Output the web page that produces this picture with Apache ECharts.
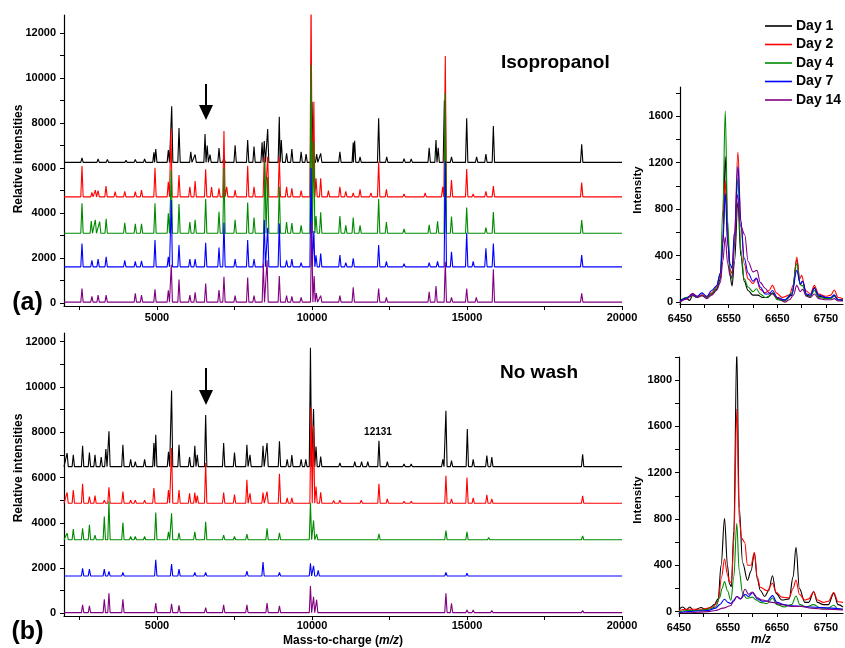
<!DOCTYPE html>
<html><head><meta charset="utf-8">
<script src="https://cdn.jsdelivr.net/npm/echarts@6.0.0/dist/echarts.min.js"></script>
<style>html,body{margin:0;padding:0;background:#fff}#c{width:845px;height:648px}</style>
</head><body><div id="c"></div>
<script>
// ---------- data ----------
const days = ['Day 1', 'Day 2', 'Day 4', 'Day 7', 'Day 14'];

// Panel (a) Isopropanol: baselines and peaks [m/z, intensity]
const isoBase = [6250, 4720, 3100, 1610, 40];
const isoDay1 = [[2580,6450],[3100,6400],[3400,6380],[4000,6350],[4300,6380],[4600,6400],[4900,6700],[4960,6840],[5365,6800],[5474,8750],[5710,7780],[6090,6720],[6230,6600],[6550,7510],[6620,7000],[6710,6600],[7000,6890],[7160,6500],[7520,7010],[7925,7240],[8130,6950],[8390,7140],[8460,7200],[8570,7730],[8945,8280],[9010,7240],[9180,6650],[9350,6840],[9650,6720],[9810,6620],[10000,8950],[10150,6620],[10280,6650],[10900,6720],[11330,7130],[11375,7210],[11550,6500],[12150,8210],[12410,6500],[12970,6420],[13200,6400],[13780,6900],[14000,7240],[14070,6900],[14270,9000],[14500,6500],[14990,8210],[15310,6500],[15610,6620],[15850,7870],[18700,7050]];
const isoDay2 = [[2580,6090],[2900,4920],[3010,5020],[3100,5000],[3355,5200],[3650,4950],[3960,4960],[4300,4950],[4500,5020],[4935,6010],[5365,5390],[5450,7720],[5710,5690],[6060,5170],[6230,5420],[6570,5950],[6760,5150],[7000,5100],[7160,7640],[7250,5170],[7520,5020],[7925,6100],[8130,5170],[8460,6500],[8570,6500],[8945,6500],[9180,5170],[9350,5100],[9650,5000],[9970,13500],[10060,8950],[10130,5550],[10280,5550],[10530,5000],[10900,5170],[11090,4960],[11330,4900],[11550,5050],[11900,4900],[12150,6280],[12400,5050],[12970,4850],[13650,4900],[14215,5170],[14300,10980],[14500,5470],[14990,5960],[15200,4850],[15610,4960],[15850,5200],[18700,5350]];
const isoDay4 = [[2580,4430],[2880,3650],[3010,3700],[3150,3620],[3360,3740],[3960,3570],[4300,3520],[4500,3520],[4935,4430],[5365,3990],[5460,5910],[5710,4400],[6060,3600],[6230,3700],[6570,4620],[7000,4060],[7160,6000],[7520,3700],[7925,4470],[8130,3800],[8480,6300],[8570,5600],[8945,5170],[9180,3600],[9350,3550],[9650,3450],[9970,10580],[10060,7170],[10130,3870],[10280,4030],[10900,3870],[11090,3450],[11330,3800],[11550,3450],[12150,4620],[12400,3600],[12970,3300],[13780,3480],[14050,3630],[14300,9320],[14500,3840],[14990,4250],[15610,3350],[15850,4040],[18700,3690]];
const isoDay7 = [[2580,2650],[2900,1900],[3100,1950],[3360,2050],[3960,1900],[4300,1850],[4500,1880],[4935,2800],[5365,2050],[5460,4580],[5710,2580],[6060,1950],[6230,1950],[6570,2680],[7000,2470],[7160,3570],[7520,1950],[7925,2800],[8130,1950],[8460,3690],[8570,3350],[8945,3540],[9180,1900],[9350,1950],[9650,1800],[9970,6000],[10060,3200],[10130,2120],[10280,2200],[10900,2130],[11090,1800],[11330,1990],[12150,2580],[12400,1850],[12970,1750],[13780,1800],[14050,1850],[14300,6300],[14500,2280],[14990,3120],[15200,1850],[15610,2430],[15850,2650],[18700,2130]];
const isoDay14 = [[2580,650],[2900,300],[3100,350],[3360,350],[4300,430],[4500,350],[4935,610],[5365,570],[5460,1700],[5710,1050],[6060,350],[6230,480],[6570,870],[7000,580],[7160,1170],[7520,330],[7925,1140],[8130,330],[8430,1760],[8550,1900],[8945,1200],[9180,330],[9350,300],[9650,250],[9990,3600],[10070,1200],[10140,440],[10280,330],[10900,330],[11330,700],[12150,650],[12400,250],[13780,500],[14000,760],[14300,1840],[14500,250],[14990,650],[15300,250],[15850,1500],[18700,430]];

// Panel (b) No wash
const nwBase = [6480, 4860, 3250, 1650, 30];
const nwDay1 = [[2100,7080],[2300,7000],[2600,7400],[2820,7100],[3000,7000],[3200,6900],[3350,7260],[3450,8040],[3900,7450],[4150,6800],[4300,6700],[4600,6800],[4900,7520],[4960,7890],[5370,7140],[5470,9840],[5710,7450],[6050,6900],[6220,7400],[6300,7000],[6570,8760],[7150,7520],[7500,7100],[7900,7450],[8000,7000],[8420,7400],[8550,7520],[8950,7600],[9200,6800],[9350,6990],[9650,6800],[9800,6800],[9950,11730],[10050,9030],[10130,7370],[10280,6930],[10900,6650],[11380,6700],[11600,6700],[11800,6700],[12160,7620],[12430,6700],[12970,6600],[13200,6600],[14220,6800],[14320,8950],[14500,6750],[15010,8140],[15200,6800],[15640,6970],[15800,6900],[18730,7030]];
const nwDay2 = [[2100,5340],[2300,5450],[2600,5720],[2820,5160],[3000,5200],[3300,5000],[3450,5570],[3900,5380],[4150,5000],[4300,5000],[4600,5000],[4900,5530],[5370,5450],[5470,7300],[5710,5450],[6050,5300],[6220,5330],[6300,5200],[6570,6640],[7150,5340],[7500,5250],[7900,5900],[8000,5300],[8420,5330],[8550,5380],[8950,6160],[9200,5100],[9350,5100],[9970,9100],[10050,8300],[10130,5600],[10280,5350],[10700,4980],[10900,5000],[11590,5000],[12160,5720],[12430,5060],[12970,4950],[13200,4950],[14320,6080],[14500,5060],[15000,6000],[15200,5100],[15640,5230],[15800,5050],[18730,5190]];
const nwDay4 = [[2100,3540],[2300,3720],[2600,3760],[2820,3910],[3000,3450],[3300,4270],[3450,4940],[3900,4010],[4150,3400],[4300,3400],[4600,3400],[4960,4450],[5370,3600],[5470,4420],[5710,3550],[6220,3600],[6570,4040],[7150,3450],[7500,3400],[7900,3500],[8550,3760],[8950,3550],[9950,4870],[10050,4100],[10150,3500],[12160,3510],[14320,3650],[15000,3600],[15700,3350],[18730,3420]];
const nwDay7 = [[2600,1990],[2820,1950],[3300,1950],[3450,1850],[3900,1800],[4960,2360],[5470,2180],[5710,1950],[6220,1800],[6570,1800],[7900,1860],[8420,2260],[8950,1800],[9950,2210],[10050,2100],[10200,1900],[14320,1810],[15000,1770],[15800,1720],[18730,1720]];
const nwDay14 = [[2600,370],[2820,330],[3300,620],[3450,880],[3900,620],[4960,450],[5470,420],[5710,350],[6570,250],[7150,370],[7900,370],[8550,450],[8950,330],[9950,1210],[10050,730],[10150,600],[14320,880],[14500,440],[15000,150],[15200,150],[15800,120],[18730,120]];

// Inset (a) zoom 6450-6785
const isoZoom1 = [[6450,10],[6462,35],[6470,15],[6476,60],[6485,40],[6495,60],[6505,40],[6515,70],[6525,110],[6533,200],[6538,500],[6543,1253],[6548,600],[6553,220],[6557,140],[6562,350],[6569,860],[6575,400],[6582,180],[6590,100],[6600,60],[6610,60],[6620,40],[6630,40],[6640,80],[6650,30],[6665,15],[6680,60],[6690,365],[6697,150],[6702,180],[6710,60],[6718,50],[6726,125],[6735,50],[6750,40],[6760,40],[6767,60],[6775,20],[6785,20]];
const isoZoom2 = [[6450,5],[6462,25],[6476,75],[6485,50],[6495,60],[6505,45],[6515,80],[6525,130],[6533,230],[6538,550],[6543,1046],[6548,520],[6553,280],[6557,245],[6562,600],[6569,1290],[6575,700],[6582,330],[6590,200],[6600,160],[6607,200],[6615,110],[6625,80],[6633,100],[6640,144],[6648,80],[6660,40],[6675,60],[6683,150],[6690,387],[6696,200],[6700,230],[6708,100],[6718,70],[6726,144],[6735,70],[6750,50],[6760,60],[6767,105],[6775,40],[6785,30]];
const isoZoom4 = [[6450,0],[6462,40],[6476,55],[6485,40],[6495,55],[6505,40],[6515,70],[6525,120],[6533,250],[6538,800],[6543,1643],[6548,700],[6553,250],[6557,200],[6562,500],[6569,1061],[6575,450],[6582,200],[6590,130],[6600,90],[6607,115],[6615,70],[6625,40],[6633,50],[6640,75],[6650,20],[6665,10],[6680,80],[6690,330],[6697,150],[6702,140],[6710,50],[6718,50],[6726,100],[6735,40],[6750,30],[6760,30],[6767,50],[6775,20],[6785,15]];
const isoZoom7 = [[6450,10],[6462,30],[6476,70],[6485,50],[6495,80],[6505,50],[6515,100],[6525,140],[6533,250],[6538,500],[6543,937],[6548,500],[6553,330],[6557,290],[6562,600],[6569,1167],[6575,700],[6582,380],[6590,250],[6600,180],[6607,207],[6615,130],[6625,70],[6633,70],[6640,100],[6650,40],[6665,20],[6680,70],[6690,273],[6697,160],[6702,180],[6710,70],[6718,60],[6726,120],[6735,60],[6750,40],[6760,40],[6767,60],[6775,20],[6785,15]];
const isoZoom14 = [[6450,0],[6462,25],[6476,60],[6485,40],[6495,55],[6505,30],[6515,60],[6525,100],[6533,170],[6538,350],[6543,559],[6548,330],[6553,230],[6557,215],[6562,500],[6568,924],[6575,650],[6583,580],[6590,350],[6600,260],[6608,273],[6615,170],[6625,120],[6633,80],[6640,70],[6650,40],[6665,0],[6675,20],[6683,60],[6690,144],[6697,90],[6702,110],[6710,50],[6718,40],[6726,70],[6735,30],[6750,20],[6760,20],[6767,30],[6775,10],[6785,10]];

// Inset (b) zoom 6450-6785
const nwZoom1 = [[6450,20],[6458,40],[6465,15],[6472,40],[6480,10],[6495,35],[6505,15],[6515,40],[6522,60],[6530,110],[6536,400],[6543,805],[6549,400],[6553,240],[6557,215],[6562,700],[6568,2270],[6573,900],[6580,420],[6590,270],[6597,350],[6604,503],[6610,280],[6616,185],[6625,130],[6633,180],[6641,310],[6648,160],[6660,100],[6675,110],[6683,300],[6689,555],[6696,200],[6707,80],[6715,80],[6725,172],[6733,80],[6745,60],[6755,60],[6766,158],[6775,60],[6785,40]];
const nwZoom2 = [[6450,10],[6465,20],[6480,20],[6495,20],[6510,30],[6520,40],[6530,90],[6537,300],[6543,455],[6549,320],[6553,260],[6557,250],[6562,600],[6568,1750],[6573,800],[6578,633],[6584,600],[6590,400],[6597,400],[6604,512],[6610,300],[6616,210],[6630,180],[6641,245],[6648,170],[6660,125],[6675,120],[6683,200],[6689,273],[6696,150],[6707,100],[6715,110],[6725,172],[6733,100],[6745,80],[6755,90],[6766,165],[6775,85],[6785,80]];
const nwZoom4 = [[6450,0],[6470,10],[6490,10],[6510,20],[6525,40],[6533,120],[6538,200],[6543,260],[6549,180],[6556,98],[6562,300],[6568,762],[6573,350],[6580,160],[6588,115],[6600,125],[6608,100],[6616,80],[6630,70],[6641,118],[6650,60],[6665,40],[6680,60],[6689,135],[6697,60],[6710,40],[6725,60],[6740,30],[6755,30],[6766,55],[6775,25],[6785,20]];
const nwZoom7 = [[6450,-10],[6470,0],[6490,5],[6510,10],[6525,30],[6533,60],[6543,107],[6550,80],[6556,70],[6562,100],[6568,130],[6576,110],[6585,150],[6592,130],[6600,163],[6610,110],[6620,90],[6630,90],[6641,138],[6650,80],[6665,60],[6680,50],[6700,45],[6720,40],[6740,35],[6760,30],[6785,20]];
const nwZoom14 = [[6450,-15],[6470,-10],[6490,-5],[6510,0],[6525,10],[6540,30],[6555,50],[6562,90],[6568,130],[6576,110],[6585,193],[6592,150],[6600,170],[6610,120],[6620,100],[6640,80],[6660,60],[6680,45],[6700,45],[6720,30],[6750,20],[6785,15]];

// tick values
const mainXTicks = [2500,5000,7500,10000,12500,15000,17500,20000];
const mainXLabels = [5000,10000,15000,20000];
const mainYTicks = [0,1000,2000,3000,4000,5000,6000,7000,8000,9000,10000,11000,12000];
const mainYLabels = [0,2000,4000,6000,8000,10000,12000];
const zoomXTicks = [6450,6500,6550,6600,6650,6700,6750];
const zoomXLabels = [6450,6550,6650,6750];
const zoomAYTicks = [0,200,400,600,800,1000,1200,1400,1600,1800];
const zoomAYLabels = [0,400,800,1200,1600];
const zoomBYTicks = [0,200,400,600,800,1000,1200,1400,1600,1800,2000,2200];
const zoomBYLabels = [0,400,800,1200,1600,2000];
const zoomBYLabelText = ['0','400','800','1200','1600','1800'];

// ---------- drawing ----------
const colors = ['#000000', '#ff0000', '#008a00', '#0000ff', '#800080'];
const FONT = '"Liberation Sans", Arial, Helvetica, sans-serif';

function spectrum(peaks, base) {
  const w = 38;
  const pts = [[2000, base], [20000, base]];
  peaks.forEach(p => { pts.push([p[0] - w, base], [p[0], p[1]], [p[0] + w, base]); });
  pts.sort((a, b) => a[0] - b[0]);
  return pts;
}

const isoSets = [isoDay1, isoDay2, isoDay4, isoDay7, isoDay14];
const nwSets = [nwDay1, nwDay2, nwDay4, nwDay7, nwDay14];
const isoZoom = [isoZoom1, isoZoom2, isoZoom4, isoZoom7, isoZoom14];
const nwZoom = [nwZoom1, nwZoom2, nwZoom4, nwZoom7, nwZoom14];

const series = [];
function addSeries(sets, idx, builder, smooth) {
  sets.forEach((s, i) => {
    series.push({
      name: days[i], type: 'line', xAxisIndex: idx, yAxisIndex: idx,
      data: builder(s, i), symbol: 'none', smooth: smooth, smoothMonotone: 'x',
      lineStyle: { color: colors[i], width: 1.1 }, itemStyle: { color: colors[i] },
      animation: false, silent: true
    });
  });
}
addSeries(isoSets, 0, (s, i) => spectrum(s, isoBase[i]), false);
addSeries(nwSets, 1, (s, i) => spectrum(s, nwBase[i]), false);
addSeries(isoZoom, 2, s => s, 0.35);
addSeries(nwZoom, 3, s => s, 0.35);

const plain = v => String(Math.round(v));
const lbl = { color: '#000', fontWeight: 'bold', fontSize: 11, fontFamily: FONT, formatter: plain };
function xAx(idx, min, max, ticks, labels, margin) {
  return { type: 'value', gridIndex: idx, min: min, max: max,
    axisLine: { onZero: false, lineStyle: { color: '#000', width: 1.2 } },
    axisTick: { customValues: ticks, length: 4, lineStyle: { color: '#000', width: 1 } },
    axisLabel: Object.assign({ customValues: labels, margin: margin, showMinLabel: true, showMaxLabel: true }, lbl),
    splitLine: { show: false } };
}
function yAx(idx, min, max, ticks, labels, margin, fmt) {
  const a = { type: 'value', gridIndex: idx, min: min, max: max,
    axisLine: { show: true, onZero: false, lineStyle: { color: '#000', width: 1.2 } },
    axisTick: { show: true, customValues: ticks, length: 4, lineStyle: { color: '#000', width: 1 } },
    axisLabel: Object.assign({ customValues: labels, margin: margin, showMinLabel: true }, lbl),
    splitLine: { show: false } };
  if (fmt) a.axisLabel.formatter = fmt;
  return a;
}

const option = {
  backgroundColor: '#fff',
  animation: false,
  grid: [
    { left: 64, top: 15, width: 558, height: 291 },
    { left: 64, top: 333, width: 558, height: 283 },
    { left: 680, top: 87, width: 163, height: 217 },
    { left: 679, top: 357, width: 164, height: 256 }
  ],
  xAxis: [
    xAx(0, 2000, 20000, mainXTicks, mainXLabels, 6),
    xAx(1, 2000, 20000, mainXTicks, mainXLabels, 4),
    xAx(2, 6450, 6785, zoomXTicks, zoomXLabels, 9),
    xAx(3, 6450, 6785, zoomXTicks, zoomXLabels, 9)
  ],
  yAxis: [
    yAx(0, -130, 12800, mainYTicks, mainYLabels, 8),
    yAx(1, -120, 12385, mainYTicks, mainYLabels, 8),
    yAx(2, -16, 1850, zoomAYTicks, zoomAYLabels, 7),
    yAx(3, -12, 2200, zoomBYTicks, zoomBYLabels, 7,
        v => { const k = zoomBYLabels.indexOf(Math.round(v)); return k >= 0 ? zoomBYLabelText[k] : String(v); })
  ],
  legend: {
    data: days.map(d => ({ name: d, icon: 'rect' })), orient: 'vertical', left: 765, top: 19, padding: 0,
    itemWidth: 27, itemHeight: 1.6, itemGap: 4.5,
    textStyle: { color: '#000', fontWeight: 'bold', fontSize: 14, fontFamily: FONT, padding: [0,0,0,-1] },
    selectedMode: false
  },
  series: series,
  graphic: [
    { type: 'text', x: 27.5, y: 303, style: { text: '(a)', font: 'bold 25px ' + FONT, fill: '#000', align: 'center', verticalAlign: 'middle' } },
    { type: 'text', x: 27.5, y: 632, style: { text: '(b)', font: 'bold 25px ' + FONT, fill: '#000', align: 'center', verticalAlign: 'middle' } },
    { type: 'text', x: 501, y: 63, style: { text: 'Isopropanol', font: 'bold 19px ' + FONT, fill: '#000', align: 'left', verticalAlign: 'middle' } },
    { type: 'text', x: 500, y: 373, style: { text: 'No wash', font: 'bold 19px ' + FONT, fill: '#000', align: 'left', verticalAlign: 'middle' } },
    { type: 'text', x: 378, y: 432, style: { text: '12131', font: 'bold 10px ' + FONT, fill: '#000', align: 'center', verticalAlign: 'middle' } },
    { type: 'text', x: 18.5, y: 159, rotation: Math.PI / 2, style: { text: 'Relative intensities', font: 'bold 12px ' + FONT, fill: '#000', align: 'center', verticalAlign: 'middle' } },
    { type: 'text', x: 18.5, y: 468, rotation: Math.PI / 2, style: { text: 'Relative intensities', font: 'bold 12px ' + FONT, fill: '#000', align: 'center', verticalAlign: 'middle' } },
    { type: 'text', x: 638, y: 190, rotation: Math.PI / 2, style: { text: 'Intensity', font: 'bold 11.5px ' + FONT, fill: '#000', align: 'center', verticalAlign: 'middle' } },
    { type: 'text', x: 638, y: 500, rotation: Math.PI / 2, style: { text: 'Intensity', font: 'bold 11.5px ' + FONT, fill: '#000', align: 'center', verticalAlign: 'middle' } },
    { type: 'text', x: 343, y: 641, style: { text: '{a|Mass-to-charge (}{b|m/z}{a|)}', align: 'center', verticalAlign: 'middle',
        rich: { a: { font: 'bold 12px ' + FONT, fill: '#000' }, b: { font: 'italic bold 12px ' + FONT, fill: '#000' } } } },
    { type: 'text', x: 761, y: 640, style: { text: 'm/z', font: 'italic bold 12px ' + FONT, fill: '#000', align: 'center', verticalAlign: 'middle' } },
    { type: 'line', shape: { x1: 206, y1: 84, x2: 206, y2: 108 }, style: { stroke: '#000', lineWidth: 2 } },
    { type: 'polygon', shape: { points: [[199, 105], [213, 105], [206, 120]] }, style: { fill: '#000' } },
    { type: 'line', shape: { x1: 206, y1: 368, x2: 206, y2: 392 }, style: { stroke: '#000', lineWidth: 2 } },
    { type: 'polygon', shape: { points: [[199, 390], [213, 390], [206, 405]] }, style: { fill: '#000' } }
  ]
};
const chart = echarts.init(document.getElementById('c'), null, { renderer: 'canvas' });
chart.setOption(option);
</script></body></html>
